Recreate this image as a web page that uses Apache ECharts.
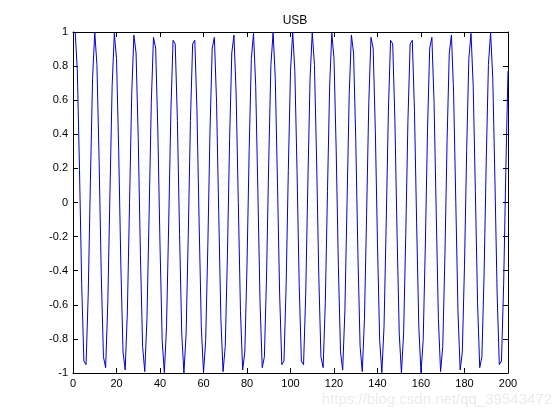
<!DOCTYPE html>
<html><head><meta charset="utf-8">
<script src="https://cdn.jsdelivr.net/npm/echarts@6/dist/echarts.min.js"></script>
<style>html,body{margin:0;padding:0;background:#fff}#c{width:560px;height:420px}</style>
</head><body><div id="c"></div>
<script>
const titleText = 'USB';
const watermarkText = 'https://blog.csdn.net/qq_39543472';
const xTicks = [0, 20, 40, 60, 80, 100, 120, 140, 160, 180, 200];
const yTicks = [-1, -0.8, -0.6, -0.4, -0.2, 0, 0.2, 0.4, 0.6, 0.8, 1];
// sample values (sample index 1..200)
const usbSignal = [
1, 0.7705, 0.1874, -0.4818, -0.9298, -0.9511, -0.5358, 0.1253, 0.7290, 0.9980,
0.8090, 0.2487, -0.4258, -0.9048, -0.9686, -0.5878, 0.0628, 0.6845, 0.9921, 0.8443,
0.3090, -0.3681, -0.8763, -0.9823, -0.6374, 0, 0.6374, 0.9823, 0.8763, 0.3681,
-0.3090, -0.8443, -0.9921, -0.6845, -0.0628, 0.5878, 0.9686, 0.9048, 0.4258, -0.2487,
-0.8090, -0.9980, -0.7290, -0.1253, 0.5358, 0.9511, 0.9298, 0.4818, -0.1874, -0.7705,
-1, -0.7705, -0.1874, 0.4818, 0.9298, 0.9511, 0.5358, -0.1253, -0.7290, -0.9980,
-0.8090, -0.2487, 0.4258, 0.9048, 0.9686, 0.5878, -0.0628, -0.6845, -0.9921, -0.8443,
-0.3090, 0.3681, 0.8763, 0.9823, 0.6374, 0, -0.6374, -0.9823, -0.8763, -0.3681,
0.3090, 0.8443, 0.9921, 0.6845, 0.0628, -0.5878, -0.9686, -0.9048, -0.4258, 0.2487,
0.8090, 0.9980, 0.7290, 0.1253, -0.5358, -0.9511, -0.9298, -0.4818, 0.1874, 0.7705,
1, 0.7705, 0.1874, -0.4818, -0.9298, -0.9511, -0.5358, 0.1253, 0.7290, 0.9980,
0.8090, 0.2487, -0.4258, -0.9048, -0.9686, -0.5878, 0.0628, 0.6845, 0.9921, 0.8443,
0.3090, -0.3681, -0.8763, -0.9823, -0.6374, 0, 0.6374, 0.9823, 0.8763, 0.3681,
-0.3090, -0.8443, -0.9921, -0.6845, -0.0628, 0.5878, 0.9686, 0.9048, 0.4258, -0.2487,
-0.8090, -0.9980, -0.7290, -0.1253, 0.5358, 0.9511, 0.9298, 0.4818, -0.1874, -0.7705,
-1, -0.7705, -0.1874, 0.4818, 0.9298, 0.9511, 0.5358, -0.1253, -0.7290, -0.9980,
-0.8090, -0.2487, 0.4258, 0.9048, 0.9686, 0.5878, -0.0628, -0.6845, -0.9921, -0.8443,
-0.3090, 0.3681, 0.8763, 0.9823, 0.6374, 0, -0.6374, -0.9823, -0.8763, -0.3681,
0.3090, 0.8443, 0.9921, 0.6845, 0.0628, -0.5878, -0.9686, -0.9048, -0.4258, 0.2487,
0.8090, 0.9980, 0.7290, 0.1253, -0.5358, -0.9511, -0.9298, -0.4818, 0.1874, 0.7705
];

const font = "'Liberation Sans', Arial, Helvetica, sans-serif";
const axisBase = {
  axisLine: { show: true, onZero: false, lineStyle: { color: '#000', width: 1 } },
  axisTick: { show: true, inside: true, length: 5, lineStyle: { color: '#000' } },
  splitLine: { show: false },
  minorTick: { show: false }
};
const xMin = xTicks[0], xMax = xTicks[xTicks.length - 1], xInt = xTicks[1] - xTicks[0];
const yMin = yTicks[0], yMax = yTicks[yTicks.length - 1], yInt = 0.2;

const chart = echarts.init(document.getElementById('c'), null, { renderer: 'canvas' });
chart.setOption({
  animation: false,
  backgroundColor: '#fff',
  title: {
    text: titleText, left: 290, top: 10, textAlign: 'center',
    textStyle: { fontFamily: font, fontSize: 12, fontWeight: 'normal', color: '#000' }
  },
  grid: { left: 73, top: 32, width: 435, height: 341, containLabel: false },
  xAxis: [
    Object.assign({ type: 'value', min: xMin, max: xMax, interval: xInt, position: 'bottom',
      axisLabel: { color: '#000', fontFamily: font, fontSize: 11, margin: 5 } }, axisBase),
    Object.assign({ type: 'value', min: xMin, max: xMax, interval: xInt, position: 'top',
      axisLabel: { show: false } }, axisBase)
  ],
  yAxis: [
    Object.assign({ type: 'value', min: yMin, max: yMax, interval: yInt, position: 'left',
      axisLabel: { color: '#000', fontFamily: font, fontSize: 11, margin: 5,
        formatter: v => String(Math.round(v * 10) / 10) } }, axisBase),
    Object.assign({ type: 'value', min: yMin, max: yMax, interval: yInt, position: 'right',
      axisLabel: { show: false } }, axisBase)
  ],
  graphic: [{
    type: 'text', right: 8, top: 392,
    style: { text: watermarkText, fontFamily: font, fontSize: 15, fill: '#ebebeb' }
  }],
  series: [{
    type: 'line',
    xAxisIndex: 0, yAxisIndex: 0,
    data: usbSignal.map((v, i) => [i + 1, v]),
    showSymbol: false,
    symbol: 'none',
    lineStyle: { color: '#0000c8', width: 1 },
    clip: true
  }]
});
</script>
</body></html>
